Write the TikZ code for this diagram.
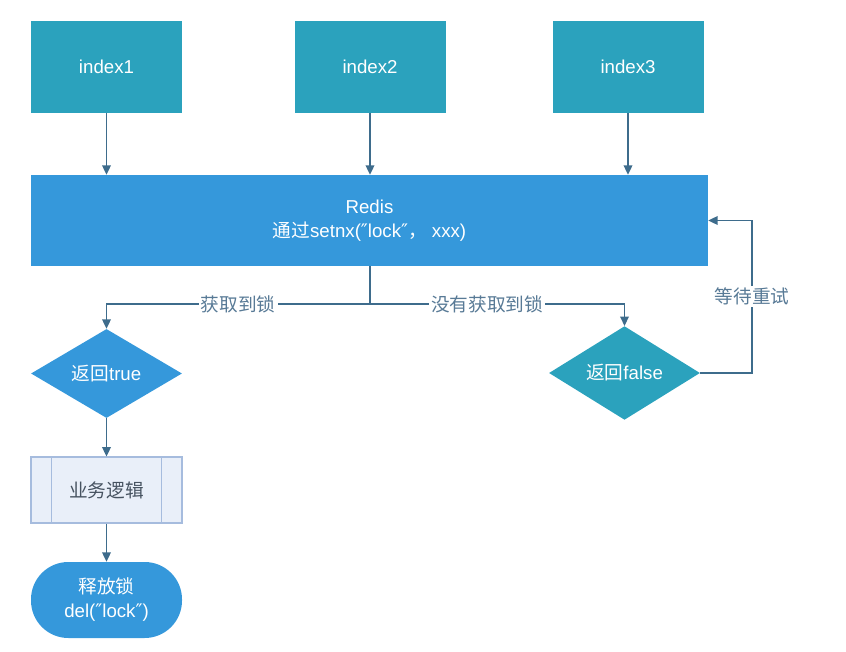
\documentclass[tikz,border=0pt]{standalone}
\usepackage{fontspec}
\setmainfont{Liberation Sans}
\newfontfamily\cjk{Noto Sans CJK SC}
\newfontfamily\dv{DejaVu Sans}
\usetikzlibrary{shapes.geometric,arrows.meta}
\definecolor{cTeal}{RGB}{43,162,189}
\definecolor{cBlue}{RGB}{53,152,219}
\definecolor{cArrow}{RGB}{62,108,140}
\definecolor{cLabel}{RGB}{88,122,150}
\definecolor{cProcFill}{RGB}{233,239,249}
\definecolor{cProcLine}{RGB}{166,188,222}
\definecolor{cProcText}{RGB}{70,82,96}
\newcommand\myfs{\fontsize{14pt}{18pt}\selectfont}
\begin{document}
\begin{tikzpicture}[x=0.75pt,y=-0.75pt,
  idxbox/.style={fill=cTeal, draw=none, minimum width=113.25pt, minimum height=69pt, inner sep=0pt, text=white, font=\myfs},
  redisbox/.style={fill=cBlue, draw=none, minimum width=507.75pt, minimum height=68.25pt, inner sep=0pt, text=white, font=\myfs, align=center},
  decide/.style={diamond, draw=none, minimum width=113.25pt, minimum height=66.75pt, inner sep=0pt, text=white, font=\myfs},
  procbox/.style={fill=cProcFill, draw=cProcLine, line width=0.8pt, minimum width=113.25pt, minimum height=49.5pt, inner sep=0pt, text=cProcText, font=\myfs},
  termbox/.style={fill=cBlue, draw=none, rounded corners=28pt, minimum width=113.25pt, minimum height=57pt, inner sep=0pt, text=white, font=\myfs, align=center},
  arr/.style={draw=cArrow, line width=1pt, -{Triangle[length=7pt,width=6.5pt]}},
  conn/.style={draw=cArrow, line width=1pt},
  lbl/.style={fill=white, text=cLabel, inner sep=1.5pt, font=\myfs}]
\useasboundingbox (0,0) rectangle (846,652);

\node[idxbox] (i1) at (106.5,67) {index1};
\node[idxbox] (i2) at (370,67) {index2};
\node[idxbox] (i3) at (628,67) {index3};

\node[redisbox] (redis) at (369.5,220.5) {Redis\\{\cjk 通过}setnx({\dv ″}lock{\dv ″}{\cjk ，} xxx)};

\node[decide, fill=cBlue] (t) at (106.5,373.5) {{\cjk 返回}true};
\node[decide, fill=cTeal] (f) at (624.5,373) {{\cjk 返回}false};

\node[procbox] (p) at (106.5,490) {\cjk 业务逻辑};
\draw[cProcLine, line width=0.8pt] ([xshift=15.75pt]p.north west) -- ([xshift=15.75pt]p.south west);
\draw[cProcLine, line width=0.8pt] ([xshift=-15.75pt]p.north east) -- ([xshift=-15.75pt]p.south east);

\node[termbox] (term) at (106.5,600) {{\cjk 释放锁}\\del({\dv ″}lock{\dv ″})};

\draw[arr] (i1.south) -- (i1.south |- redis.north);
\draw[arr] (i2.south) -- (i2.south |- redis.north);
\draw[arr] (i3.south) -- (i3.south |- redis.north);

\coordinate (j) at (370,304);
\draw[conn] (j |- redis.south) -- (j);
\draw[arr] (j) -| (t.north) node[lbl, pos=0.25] {\cjk 获取到锁};
\draw[arr] (j) -| (f.north) node[lbl, pos=0.23] {\cjk 没有获取到锁};

\draw[arr] (t.south) -- (p.north);
\draw[arr] (p.south) -- (term.north);

\coordinate (r) at (752,373);
\draw[arr] (f.east) -- (r) |- (redis.east) node[lbl, pos=0.25] {\cjk 等待重试};
\end{tikzpicture}
\end{document}
